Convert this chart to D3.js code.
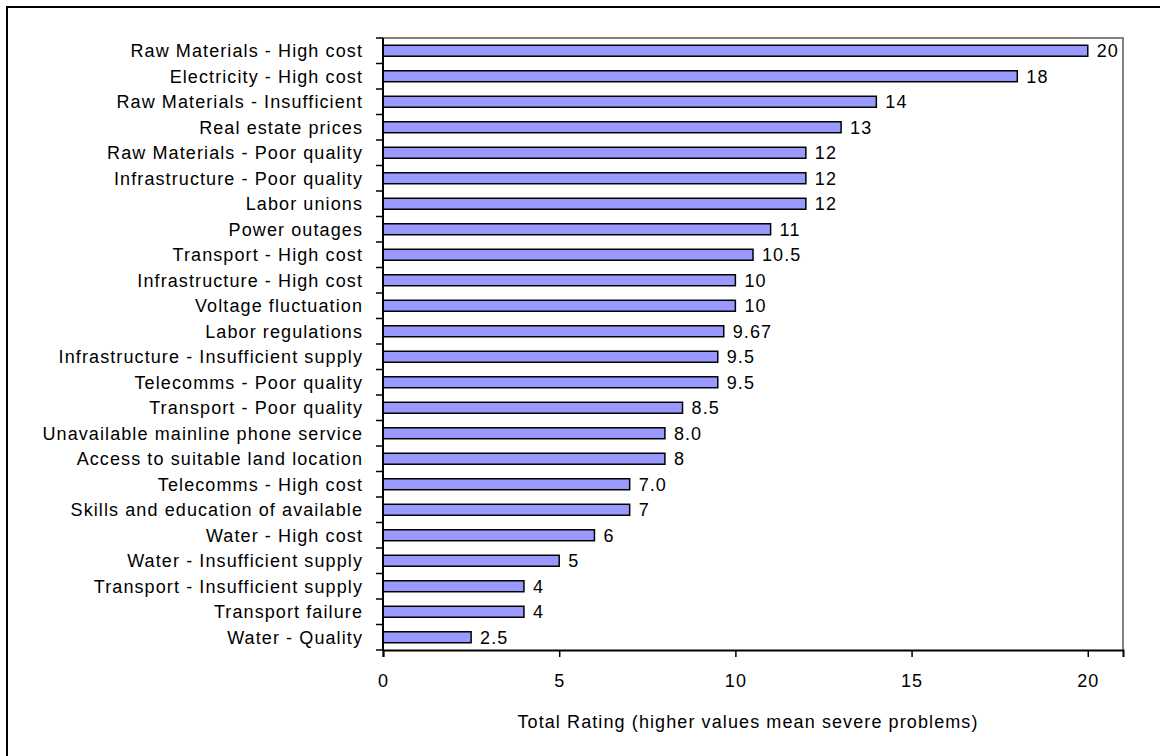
<!DOCTYPE html>
<html>
<head>
<meta charset="utf-8">
<script src="https://cdn.jsdelivr.net/npm/d3@7/dist/d3.min.js"></script>
<style>
  html, body { margin: 0; padding: 0; background: #fff; }
  svg text { font-family: "Liberation Sans", Arial, sans-serif; fill: #000; }
</style>
</head>
<body>
<svg id="chart" width="1160" height="756"></svg>
<script>
// Problems ranked by total rating (top to bottom)
const categories = [
  "Raw Materials - High cost",
  "Electricity - High cost",
  "Raw Materials - Insufficient",
  "Real estate prices",
  "Raw Materials - Poor quality",
  "Infrastructure - Poor quality",
  "Labor unions",
  "Power outages",
  "Transport - High cost",
  "Infrastructure - High cost",
  "Voltage fluctuation",
  "Labor regulations",
  "Infrastructure - Insufficient supply",
  "Telecomms - Poor quality",
  "Transport - Poor quality",
  "Unavailable mainline phone service",
  "Access to suitable land location",
  "Telecomms - High cost",
  "Skills and education of available",
  "Water - High cost",
  "Water - Insufficient supply",
  "Transport - Insufficient supply",
  "Transport failure",
  "Water - Quality"
];
const values = [20, 18, 14, 13, 12, 12, 12, 11, 10.5, 10, 10, 9.67, 9.5, 9.5, 8.5, 8.0, 8, 7.0, 7, 6, 5, 4, 4, 2.5];
// Data labels as printed next to each bar
const valueLabels = ["20", "18", "14", "13", "12", "12", "12", "11", "10.5", "10", "10", "9.67", "9.5", "9.5", "8.5", "8.0", "8", "7.0", "7", "6", "5", "4", "4", "2.5"];
const xTicks = [0, 5, 10, 15, 20];
const xTitle = "Total Rating (higher values mean severe problems)";

const svg = d3.select("#chart");
const plotLeft = 383, plotRight = 1123, plotTop = 38, plotBottom = 650;
const fontSize = 18, spacing = "1.1px";

// outer chart frame (runs off the right and bottom edges)
svg.append("rect")
  .attr("x", 7).attr("y", 7).attr("width", 1200).attr("height", 800)
  .attr("fill", "none").attr("stroke", "#000").attr("stroke-width", 2);

const x = d3.scaleLinear().domain([0, 21]).range([plotLeft, plotRight]);
const y = d3.scaleBand().domain(categories).range([plotTop, plotBottom])
  .paddingInner(0.57).paddingOuter(0.285);

// plot area border (top and right in grey)
svg.append("path")
  .attr("d", `M${plotLeft},${plotTop}H${plotRight}V${plotBottom}`)
  .attr("fill", "none").attr("stroke", "#808080").attr("stroke-width", 2);

// bars
svg.append("g").selectAll("rect")
  .data(categories)
  .join("rect")
  .attr("x", x(0))
  .attr("y", (d) => y(d))
  .attr("width", (d, i) => x(values[i]) - x(0))
  .attr("height", y.bandwidth())
  .attr("fill", "#9999ff")
  .attr("stroke", "#000")
  .attr("stroke-width", 1.5);

// value labels
svg.append("g").selectAll("text")
  .data(categories)
  .join("text")
  .attr("x", (d, i) => x(values[i]) + 9)
  .attr("y", (d) => y(d) + y.bandwidth() / 2)
  .attr("dy", "0.36em")
  .attr("font-size", fontSize)
  .style("letter-spacing", spacing)
  .text((d, i) => valueLabels[i]);

// category axis: ticks sit between categories
const step = y.step();
const yAxis = svg.append("g");
yAxis.append("line")
  .attr("x1", plotLeft).attr("x2", plotLeft).attr("y1", plotTop).attr("y2", plotBottom)
  .attr("stroke", "#000").attr("stroke-width", 2);
yAxis.selectAll("line.tick")
  .data(d3.range(categories.length + 1))
  .join("line")
  .attr("class", "tick")
  .attr("x1", plotLeft - 7).attr("x2", plotLeft)
  .attr("y1", (i) => plotTop + i * step).attr("y2", (i) => plotTop + i * step)
  .attr("stroke", "#000").attr("stroke-width", 1.5);
yAxis.selectAll("text")
  .data(categories)
  .join("text")
  .attr("x", plotLeft - 20)
  .attr("y", (d) => y(d) + y.bandwidth() / 2)
  .attr("dy", "0.36em")
  .attr("text-anchor", "end")
  .attr("font-size", fontSize)
  .style("letter-spacing", spacing)
  .text((d) => d);

// value axis
const xAxis = svg.append("g").attr("transform", `translate(0,${plotBottom})`)
  .call(d3.axisBottom(x).tickValues(xTicks).tickSize(7).tickPadding(17).tickFormat(d3.format("d")));
xAxis.select(".domain").attr("stroke", "#000").attr("stroke-width", 2);
xAxis.selectAll(".tick line").attr("stroke", "#000").attr("stroke-width", 1.5);
xAxis.selectAll(".tick text")
  .attr("font-size", fontSize)
  .attr("font-family", "Liberation Sans, Arial, sans-serif")
  .style("letter-spacing", spacing);

// axis title
svg.append("text")
  .attr("x", 748)
  .attr("y", 728)
  .attr("text-anchor", "middle")
  .attr("font-size", fontSize)
  .style("letter-spacing", spacing)
  .text(xTitle);
</script>
</body>
</html>
